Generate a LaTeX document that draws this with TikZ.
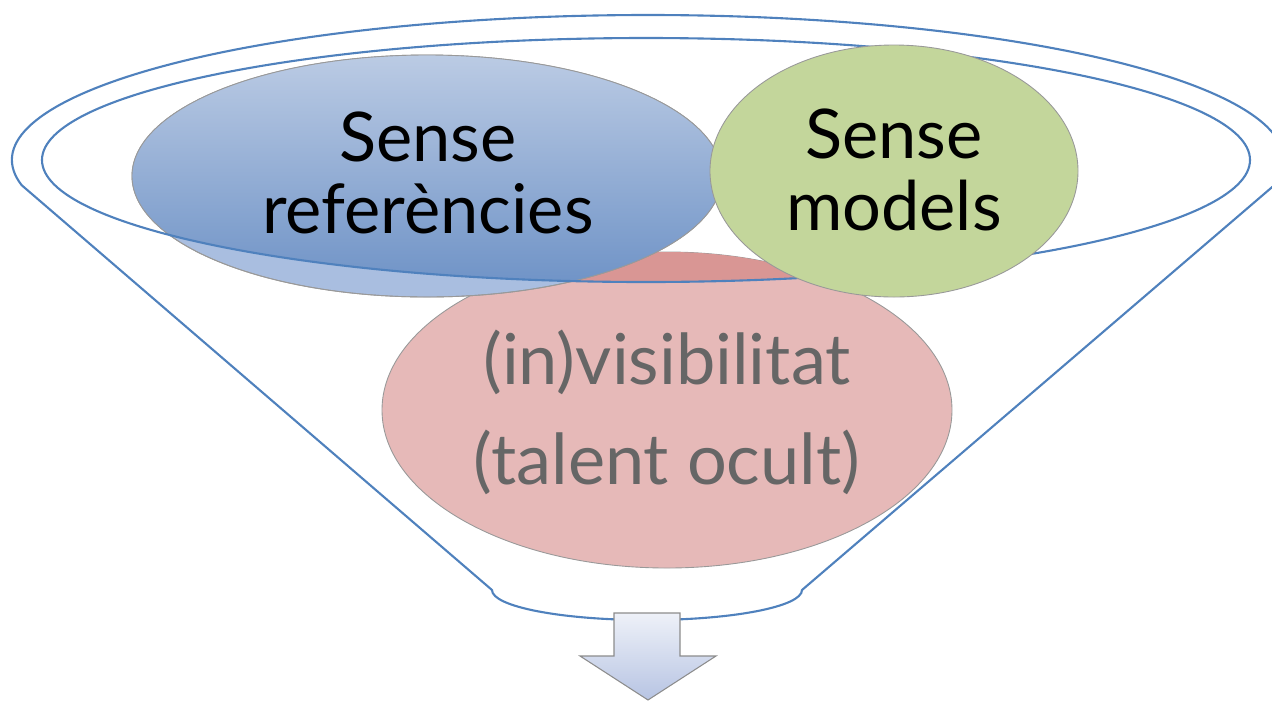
\documentclass[tikz,border=0pt]{standalone}
\usepackage{fontspec}
\setmainfont{Lato}
\usetikzlibrary{positioning}

\definecolor{rimblue}{HTML}{4F81BD}
\definecolor{reflight}{HTML}{A9BEE0}
\definecolor{reftop}{HTML}{BBCBE4}
\definecolor{refbottom}{HTML}{6B90C5}
\definecolor{modgreen}{HTML}{C3D69B}
\definecolor{invlight}{HTML}{E6B9B8}
\definecolor{invdark}{HTML}{D99694}
\definecolor{invtext}{HTML}{666666}
\definecolor{arrowtop}{HTML}{EEF1F8}
\definecolor{arrowbottom}{HTML}{B7C4E3}

\tikzset{
	rim/.style={draw=rimblue, line width=1.2pt},
	bubble/.style={draw=gray!80, line width=0.5pt},
	label/.style={font=\fontsize{39}{41}\selectfont, align=center}
}

\begin{document}
\begin{tikzpicture}[x=0.02cm,y=-0.02cm]
	\useasboundingbox (0,0) rectangle (1272,701);

		% bottom bubble
		\fill[invlight, bubble] (667,410) ellipse (285 and 158);
		\begin{scope}
			\clip (646,160) ellipse (604 and 122);
			\fill[invdark] (667,410) ellipse (285 and 158);
		\end{scope}

		% left bubble
		\fill[reflight, bubble] (427,176) ellipse (295 and 121);
		\begin{scope}
			\clip (646,160) ellipse (604 and 122);
			\shade[top color=reftop, bottom color=refbottom] (427,176) ellipse (295 and 121);
		\end{scope}
		\draw[bubble] (427,176) ellipse (295 and 121);

		% funnel
		\draw[rim] (646,160) ellipse (604 and 122);
		\draw[rim] (648,160) ++(190:636 and -145) arc (190:-10:636 and -145)
			-- (802,590) arc (0:-180:155 and -30) -- cycle;

		% right bubble
		\fill[modgreen, bubble] (894,171) ellipse (184 and 126);

		\node[label] (refs) at (428,173) {Sense\\referències};
		\node[label] (models) at (894,170) {Sense\\models};
		\node[label, text=invtext, font=\fontsize{40}{57}\selectfont] (hidden) at (667,412) {(in)visibilitat\\(talent ocult)};

		% arrow
		\shade[top color=arrowtop, bottom color=arrowbottom, draw=gray!90, line width=0.6pt]
			(614,613) -- (680,613) -- (680,656) -- (716,656) -- (648,700) -- (580,656) -- (614,656) -- cycle;

\end{tikzpicture}
\end{document}
